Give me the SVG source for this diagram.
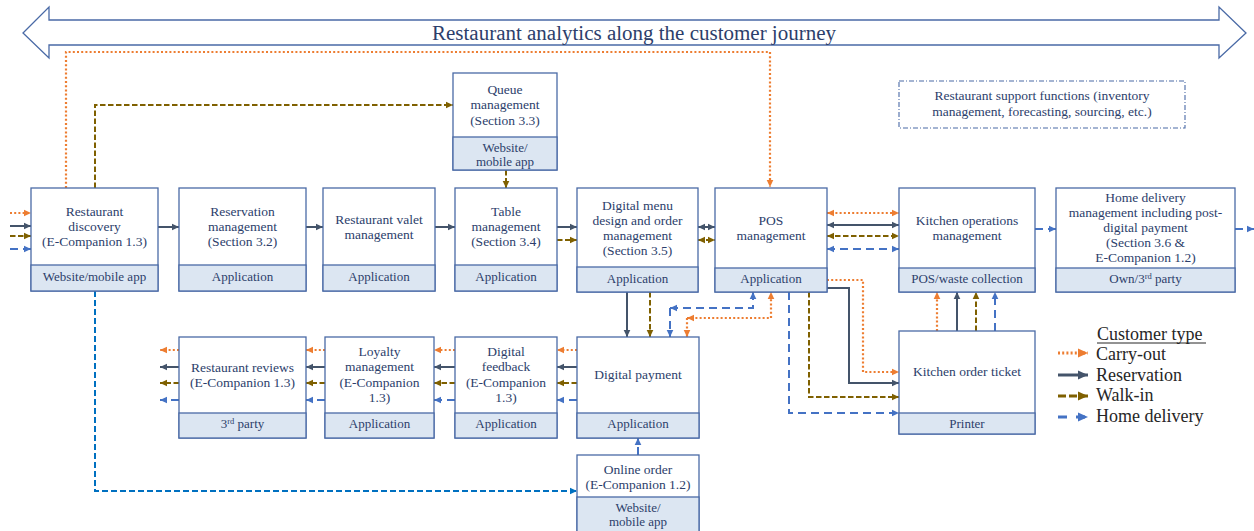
<svg xmlns="http://www.w3.org/2000/svg" width="1254" height="531" viewBox="0 0 1254 531">
<style>
.box{fill:#ffffff;stroke:#4a6aa6;stroke-width:1.3}
.band{fill:#dce6f2;stroke:#4a6aa6;stroke-width:1.3}
.t{font-family:"Liberation Serif","DejaVu Serif",serif;font-size:13.5px;fill:#2c3e6b;text-anchor:middle}
.b{font-family:"Liberation Serif","DejaVu Serif",serif;font-size:13px;fill:#2c3e6b;text-anchor:middle}
.lg{font-family:"Liberation Serif","DejaVu Serif",serif;font-size:18px;fill:#262626}
.o{fill:none;stroke:#ed7d31;stroke-width:2.2;stroke-dasharray:2 2.2}
.s{fill:none;stroke:#44546a;stroke-width:2}
.w{fill:none;stroke:#7f6000;stroke-width:2;stroke-dasharray:5.5 2.5}
.h{fill:none;stroke:#4472c4;stroke-width:2;stroke-dasharray:8 5}
.hb{fill:none;stroke:#0070c0;stroke-width:2;stroke-dasharray:6 3}
</style>
<defs>
<marker id="mo" markerUnits="userSpaceOnUse" markerWidth="8" markerHeight="8" refX="7" refY="4" orient="auto-start-reverse"><path d="M0,0.7 L7,4 L0,7.3 z" fill="#ed7d31"/></marker>
<marker id="ms" markerUnits="userSpaceOnUse" markerWidth="8" markerHeight="8" refX="7" refY="4" orient="auto-start-reverse"><path d="M0,0.7 L7,4 L0,7.3 z" fill="#44546a"/></marker>
<marker id="mw" markerUnits="userSpaceOnUse" markerWidth="8" markerHeight="8" refX="7" refY="4" orient="auto-start-reverse"><path d="M0,0.7 L7,4 L0,7.3 z" fill="#7f6000"/></marker>
<marker id="mh" markerUnits="userSpaceOnUse" markerWidth="8" markerHeight="8" refX="7" refY="4" orient="auto-start-reverse"><path d="M0,0.7 L7,4 L0,7.3 z" fill="#4472c4"/></marker>
<marker id="mhb" markerUnits="userSpaceOnUse" markerWidth="8" markerHeight="8" refX="7" refY="4" orient="auto-start-reverse"><path d="M0,0.7 L7,4 L0,7.3 z" fill="#0070c0"/></marker>
<marker id="Lo" markerUnits="userSpaceOnUse" markerWidth="12" markerHeight="12" refX="10" refY="6" orient="auto"><path d="M0,1.5 L10,6 L0,10.5 z" fill="#ed7d31"/></marker>
<marker id="Ls" markerUnits="userSpaceOnUse" markerWidth="12" markerHeight="12" refX="10" refY="6" orient="auto"><path d="M0,1.5 L10,6 L0,10.5 z" fill="#44546a"/></marker>
<marker id="Lw" markerUnits="userSpaceOnUse" markerWidth="12" markerHeight="12" refX="10" refY="6" orient="auto"><path d="M0,1.5 L10,6 L0,10.5 z" fill="#7f6000"/></marker>
<marker id="Lh" markerUnits="userSpaceOnUse" markerWidth="12" markerHeight="12" refX="10" refY="6" orient="auto"><path d="M0,1.5 L10,6 L0,10.5 z" fill="#4472c4"/></marker>
</defs>

<g id="journey-arrow">
<polygon points="23,33 49,7 49,20 1219,20 1219,7 1246,33 1219,58 1219,45 49,45 49,58" fill="#ffffff" stroke="#4a6aa6" stroke-width="1.3"/>
<text x="634" y="40" font-family="Liberation Serif, DejaVu Serif, serif" font-size="20" fill="#2c3e6b" text-anchor="middle" textLength="404" lengthAdjust="spacingAndGlyphs">Restaurant analytics along the customer journey</text>
</g>

<g id="connectors">
<path class="o" d="M66,188 V52 H770 V187" marker-end="url(#mo)"/>
<path class="w" d="M95,188 V105 H453" marker-end="url(#mw)"/>
<path class="o" d="M10,213 H31" marker-end="url(#mo)"/>
<path class="s" d="M10,226 H31" marker-end="url(#ms)"/>
<path class="w" d="M10,236 H31" marker-end="url(#mw)"/>
<path class="h" d="M10,249 H31" marker-end="url(#mh)"/>
<path class="s" d="M158,227 H179" marker-end="url(#ms)"/>
<path class="s" d="M306,227 H323" marker-end="url(#ms)"/>
<path class="s" d="M435,227 H455" marker-end="url(#ms)"/>
<path class="s" d="M557,227 H577" marker-end="url(#ms)"/>
<path class="w" d="M557,240 H577" marker-end="url(#mw)"/>
<path class="w" d="M506,170 V188" marker-end="url(#mw)"/>
<path class="s" d="M698,227 H715" marker-start="url(#ms)" marker-end="url(#ms)"/>
<path class="w" d="M698,240 H715" marker-start="url(#mw)" marker-end="url(#mw)"/>
<path class="o" d="M827,213 H899" marker-start="url(#mo)" marker-end="url(#mo)"/>
<path class="s" d="M827,225 H899" marker-start="url(#ms)" marker-end="url(#ms)"/>
<path class="w" d="M827,236 H899" marker-start="url(#mw)" marker-end="url(#mw)"/>
<path class="h" d="M827,249 H899" marker-start="url(#mh)" marker-end="url(#mh)"/>
<path class="h" d="M1035,229 H1056" marker-end="url(#mh)"/>
<path class="h" d="M1235,229 H1254" marker-end="url(#mh)"/>
<path class="s" d="M627,292 V337" marker-end="url(#ms)"/>
<path class="w" d="M650,292 V337" marker-end="url(#mw)"/>
<path class="h" d="M670,308 H753 V292" marker-start="url(#mh)" marker-end="url(#mh)"/>
<path class="h" d="M670,308 V337" marker-end="url(#mh)"/>
<path class="o" d="M687,318 H771 V292" marker-start="url(#mo)" marker-end="url(#mo)"/>
<path class="o" d="M687,318 V337" marker-end="url(#mo)"/>
<path class="o" d="M827,280 H863 V372 H899" marker-end="url(#mo)"/>
<path class="s" d="M827,288 H849 V383 H899" marker-end="url(#ms)"/>
<path class="w" d="M809,292 V397 H899" marker-end="url(#mw)"/>
<path class="h" d="M789,292 V413 H899" marker-end="url(#mh)"/>
<path class="o" d="M937,331 V292" marker-end="url(#mo)"/>
<path class="s" d="M957,331 V292" marker-end="url(#ms)"/>
<path class="w" d="M976,331 V292" marker-end="url(#mw)"/>
<path class="h" d="M995,331 V292" marker-end="url(#mh)"/>
<path class="o" d="M577,350 H557" marker-end="url(#mo)"/>
<path class="s" d="M577,367 H557" marker-end="url(#ms)"/>
<path class="w" d="M577,383 H557" marker-end="url(#mw)"/>
<path class="h" d="M577,400 H557" marker-end="url(#mh)"/>
<path class="o" d="M455,350 H434" marker-end="url(#mo)"/>
<path class="s" d="M455,367 H434" marker-end="url(#ms)"/>
<path class="w" d="M455,383 H434" marker-end="url(#mw)"/>
<path class="h" d="M455,400 H434" marker-end="url(#mh)"/>
<path class="o" d="M325,350 H306" marker-end="url(#mo)"/>
<path class="s" d="M325,367 H306" marker-end="url(#ms)"/>
<path class="w" d="M325,383 H306" marker-end="url(#mw)"/>
<path class="h" d="M325,400 H306" marker-end="url(#mh)"/>
<path class="o" d="M179,350 H160" marker-end="url(#mo)"/>
<path class="s" d="M179,367 H160" marker-end="url(#ms)"/>
<path class="w" d="M179,383 H160" marker-end="url(#mw)"/>
<path class="h" d="M179,400 H160" marker-end="url(#mh)"/>
<path class="h" d="M638,455 V438" marker-end="url(#mh)"/>
<path class="hb" d="M95,291 V491 H577" marker-end="url(#mhb)"/>
</g>

<g id="n-discovery">
<rect class="box" x="31" y="188" width="127" height="103"/>
<rect class="band" x="31" y="265" width="127" height="26"/>
<text class="t" x="94.5" y="216">Restaurant</text>
<text class="t" x="94.5" y="231">discovery</text>
<text class="t" x="94.5" y="246">(E-Companion 1.3)</text>
<text class="b" x="94.5" y="281">Website/mobile app</text>
</g>

<g id="n-reservation">
<rect class="box" x="179" y="188" width="127" height="103"/>
<rect class="band" x="179" y="265" width="127" height="26"/>
<text class="t" x="242.5" y="216">Reservation</text>
<text class="t" x="242.5" y="231">management</text>
<text class="t" x="242.5" y="246">(Section 3.2)</text>
<text class="b" x="242.5" y="281">Application</text>
</g>

<g id="n-valet">
<rect class="box" x="323" y="188" width="112" height="103"/>
<rect class="band" x="323" y="265" width="112" height="26"/>
<text class="t" x="379" y="224">Restaurant valet</text>
<text class="t" x="379" y="239">management</text>
<text class="b" x="379" y="281">Application</text>
</g>

<g id="n-queue">
<rect class="box" x="453" y="73" width="104" height="97"/>
<rect class="band" x="453" y="137" width="104" height="33"/>
<text class="t" x="505" y="94">Queue</text>
<text class="t" x="505" y="109">management</text>
<text class="t" x="505" y="125">(Section 3.3)</text>
<text class="b" x="505" y="152">Website/</text>
<text class="b" x="505" y="165.5">mobile app</text>
</g>

<g id="n-table">
<rect class="box" x="455" y="188" width="102" height="103"/>
<rect class="band" x="455" y="265" width="102" height="26"/>
<text class="t" x="506" y="216">Table</text>
<text class="t" x="506" y="231">management</text>
<text class="t" x="506" y="246">(Section 3.4)</text>
<text class="b" x="506" y="281">Application</text>
</g>

<g id="n-menu">
<rect class="box" x="577" y="188" width="121" height="104"/>
<rect class="band" x="577" y="267" width="121" height="25"/>
<text class="t" x="637.5" y="210">Digital menu</text>
<text class="t" x="637.5" y="225">design and order</text>
<text class="t" x="637.5" y="240">management</text>
<text class="t" x="637.5" y="255">(Section 3.5)</text>
<text class="b" x="637.5" y="283">Application</text>
</g>

<g id="n-pos">
<rect class="box" x="715" y="188" width="112" height="104"/>
<rect class="band" x="715" y="268" width="112" height="24"/>
<text class="t" x="771" y="224.5">POS</text>
<text class="t" x="771" y="239.5">management</text>
<text class="b" x="771" y="283">Application</text>
</g>

<g id="n-kitchen-ops">
<rect class="box" x="899" y="188" width="136" height="104"/>
<rect class="band" x="899" y="268" width="136" height="24"/>
<text class="t" x="967" y="225">Kitchen operations</text>
<text class="t" x="967" y="240">management</text>
<text class="b" x="967" y="283">POS/waste collection</text>
</g>

<g id="n-home-delivery">
<rect class="box" x="1056" y="188" width="179" height="104"/>
<rect class="band" x="1056" y="268" width="179" height="24"/>
<text class="t" x="1145.5" y="202">Home delivery</text>
<text class="t" x="1145.5" y="217">management including post-</text>
<text class="t" x="1145.5" y="232">digital payment</text>
<text class="t" x="1145.5" y="247">(Section 3.6 &amp;</text>
<text class="t" x="1145.5" y="262">E-Companion 1.2)</text>
<text class="b" x="1145.5" y="283">Own/3<tspan font-size="8.5" dy="-4.5">rd</tspan><tspan dy="4.5"> party</tspan></text>
</g>

<g id="n-support">
<rect x="899" y="81" width="286" height="47" fill="#ffffff" stroke="#4a6aa6" stroke-width="1.1" stroke-dasharray="5 2 1 2"/>
<text class="t" x="1042" y="99.5" font-size="14">Restaurant support functions (inventory</text>
<text class="t" x="1042" y="115.5" font-size="14">management, forecasting, sourcing, etc.)</text>
</g>

<g id="n-reviews">
<rect class="box" x="179" y="337" width="127" height="101"/>
<rect class="band" x="179" y="413" width="127" height="25"/>
<text class="t" x="242.5" y="372">Restaurant reviews</text>
<text class="t" x="242.5" y="387">(E-Companion 1.3)</text>
<text class="b" x="242.5" y="428">3<tspan font-size="8.5" dy="-4.5">rd</tspan><tspan dy="4.5"> party</tspan></text>
</g>

<g id="n-loyalty">
<rect class="box" x="325" y="337" width="109" height="101"/>
<rect class="band" x="325" y="413" width="109" height="25"/>
<text class="t" x="379.5" y="356">Loyalty</text>
<text class="t" x="379.5" y="371">management</text>
<text class="t" x="379.5" y="387">(E-Companion</text>
<text class="t" x="379.5" y="402">1.3)</text>
<text class="b" x="379.5" y="428">Application</text>
</g>

<g id="n-feedback">
<rect class="box" x="455" y="337" width="102" height="101"/>
<rect class="band" x="455" y="413" width="102" height="25"/>
<text class="t" x="506" y="356">Digital</text>
<text class="t" x="506" y="371">feedback</text>
<text class="t" x="506" y="387">(E-Companion</text>
<text class="t" x="506" y="402">1.3)</text>
<text class="b" x="506" y="428">Application</text>
</g>

<g id="n-payment">
<rect class="box" x="577" y="337" width="122" height="101"/>
<rect class="band" x="577" y="413" width="122" height="25"/>
<text class="t" x="638" y="379">Digital payment</text>
<text class="b" x="638" y="428">Application</text>
</g>

<g id="n-online-order">
<rect class="box" x="577" y="455" width="122" height="80"/>
<rect class="band" x="577" y="497" width="122" height="38"/>
<text class="t" x="638" y="474">Online order</text>
<text class="t" x="638" y="489">(E-Companion 1.2)</text>
<text class="b" x="638" y="512">Website/</text>
<text class="b" x="638" y="525.5">mobile app</text>
</g>

<g id="n-kot">
<rect class="box" x="899" y="331" width="136" height="103"/>
<rect class="band" x="899" y="413" width="136" height="21"/>
<text class="t" x="967" y="376">Kitchen order ticket</text>
<text class="b" x="967" y="428">Printer</text>
</g>

<g id="legend">
<text class="lg" x="1097" y="340">Customer type</text>
<line x1="1097" y1="343" x2="1206" y2="343" stroke="#262626" stroke-width="1"/>
<path class="o" d="M1058,353 H1088" style="stroke-width:3" marker-end="url(#Lo)"/>
<path class="s" d="M1058,375 H1088" style="stroke-width:3" marker-end="url(#Ls)"/>
<path class="w" d="M1058,396 H1088" style="stroke-width:3;stroke-dasharray:8 3" marker-end="url(#Lw)"/>
<path class="h" d="M1058,417 H1088" style="stroke-width:3;stroke-dasharray:9 9" marker-end="url(#Lh)"/>
<text class="lg" x="1096" y="360">Carry-out</text>
<text class="lg" x="1096" y="381">Reservation</text>
<text class="lg" x="1096" y="401">Walk-in</text>
<text class="lg" x="1096" y="422">Home delivery</text>
</g>
</svg>
